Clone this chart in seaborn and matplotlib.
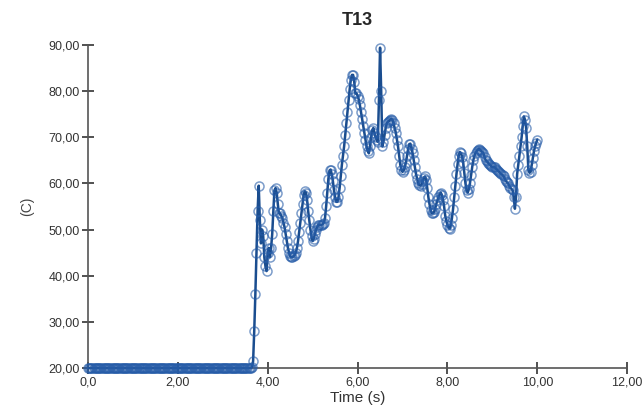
import numpy as np
import pandas as pd
import matplotlib
matplotlib.use("Agg")
import matplotlib.pyplot as plt
import seaborn as sns

# sample times (s), 0.025 s apart
time_s = np.round(np.arange(0, 10.0001, 0.025), 3)

# temperature (C), 0.00 .. 3.575 s (flat at ambient)
temp_flat = [
    20.0, 20.0, 20.0, 20.0, 20.0, 20.0, 20.0, 20.0,
    20.0, 20.0, 20.0, 20.0, 20.0, 20.0, 20.0, 20.0,
    20.0, 20.0, 20.0, 20.0, 20.0, 20.0, 20.0, 20.0,
    20.0, 20.0, 20.0, 20.0, 20.0, 20.0, 20.0, 20.0,
    20.0, 20.0, 20.0, 20.0, 20.0, 20.0, 20.0, 20.0,
    20.0, 20.0, 20.0, 20.0, 20.0, 20.0, 20.0, 20.0,
    20.0, 20.0, 20.0, 20.0, 20.0, 20.0, 20.0, 20.0,
    20.0, 20.0, 20.0, 20.0, 20.0, 20.0, 20.0, 20.0,
    20.0, 20.0, 20.0, 20.0, 20.0, 20.0, 20.0, 20.0,
    20.0, 20.0, 20.0, 20.0, 20.0, 20.0, 20.0, 20.0,
    20.0, 20.0, 20.0, 20.0, 20.0, 20.0, 20.0, 20.0,
    20.0, 20.0, 20.0, 20.0, 20.0, 20.0, 20.0, 20.0,
    20.0, 20.0, 20.0, 20.0, 20.0, 20.0, 20.0, 20.0,
    20.0, 20.0, 20.0, 20.0, 20.0, 20.0, 20.0, 20.0,
    20.0, 20.0, 20.0, 20.0, 20.0, 20.0, 20.0, 20.0,
    20.0, 20.0, 20.0, 20.0, 20.0, 20.0, 20.0, 20.0,
    20.0, 20.0, 20.0, 20.0, 20.0, 20.0, 20.0, 20.0,
    20.0, 20.0, 20.0, 20.0, 20.0, 20.0, 20.0, 20.0,
]

# 3.600 .. 10.000 s, one row per 0.2 s
temp_fire = [
    20.0, 20.0, 20.2, 21.5, 28.0, 36.0, 45.0, 54.0,
    59.5, 52.0, 47.0, 50.0, 48.5, 44.0, 42.0, 41.0,
    45.0, 46.0, 44.0, 46.0, 49.0, 54.0, 58.5, 59.0,
    58.0, 55.5, 53.5, 53.5, 53.0, 52.5, 51.5, 50.5,
    49.0, 47.5, 46.0, 45.0, 44.2, 44.0, 44.0, 44.2,
    44.5, 45.0, 46.0, 47.5, 49.5, 51.5, 53.5, 55.5,
    57.5, 58.3, 58.0, 56.5, 54.0, 52.0, 50.0, 48.5,
    47.5, 48.0, 49.0, 50.0, 50.5, 51.0, 51.0, 51.0,
    51.0, 51.2, 51.5, 52.5, 55.0, 58.0, 61.0, 62.8,
    63.0, 62.0, 60.5, 58.5, 57.0, 56.0, 56.0, 57.0,
    59.0, 61.5, 64.0, 66.0, 68.0, 70.5, 73.0, 75.5,
    78.0, 80.5, 82.5, 83.5, 83.5, 82.0, 79.5, 79.5,
    79.0, 78.2, 77.0, 75.5, 74.0, 72.5, 71.0, 69.5,
    68.0, 67.0, 66.5, 68.0, 70.0, 71.5, 72.0, 71.0,
    70.0, 69.5, 69.0, 78.0, 89.4, 80.0, 68.0, 69.0,
    70.5, 72.0, 73.0, 73.4, 73.5, 73.8, 74.0, 73.8,
    73.0, 72.0, 71.0, 69.5, 68.0, 66.0, 64.0, 63.0,
    62.5, 62.8, 63.5, 64.5, 66.0, 67.5, 68.5, 68.6,
    67.5, 66.5, 65.0, 63.5, 62.0, 61.0, 60.0, 59.6,
    59.5, 59.8, 60.5, 61.2, 61.5, 60.8, 59.0, 57.0,
    55.5, 54.3, 53.5, 53.5, 53.8, 54.5, 55.5, 56.3,
    57.0, 57.6, 58.0, 57.5, 56.5, 55.0, 53.0, 51.8,
    51.0, 50.4, 50.2, 51.0, 52.5, 54.5, 57.0, 59.5,
    62.0, 64.2, 66.0, 66.8, 66.5, 65.8, 64.5, 62.3,
    60.0, 58.5, 58.0, 58.7, 60.0, 61.8, 63.5, 65.0,
    66.0, 66.6, 67.0, 67.3, 67.5, 67.3, 67.0, 66.8,
    66.5, 65.7, 65.0, 64.8, 64.5, 64.2, 64.0, 63.7,
    63.5, 63.5, 63.5, 63.2, 63.0, 62.7, 62.5, 62.2,
    62.0, 61.8, 61.5, 61.0, 60.5, 60.2, 60.0, 59.5,
    59.0, 58.8, 58.5, 57.0, 54.5, 57.0, 62.0, 64.0,
    66.0, 68.0, 70.0, 72.5, 74.5, 73.8, 72.0, 68.0,
    63.0, 62.3, 62.5, 64.0, 65.5, 67.0, 68.0, 68.8,
    69.5,
]

x_ticks = [0, 2, 4, 6, 8, 10, 12]
x_labels = ["0,0", "2,00", "4,00", "6,00", "8,00", "10,00", "12,00"]
y_ticks = [20, 30, 40, 50, 60, 70, 80, 90]
y_labels = ["20,00", "30,00", "40,00", "50,00", "60,00", "70,00", "80,00", "90,00"]

df = pd.DataFrame({"Time (s)": time_s, "(C)": temp_flat + temp_fire})

sns.set_style("white")
plt.rcParams["font.family"] = ["Liberation Sans", "DejaVu Sans"]

fig = plt.figure(figsize=(6.42, 4.08), dpi=100)
ax = fig.add_axes([0.137, 0.098, 0.840, 0.792])

sns.lineplot(data=df, x="Time (s)", y="(C)", ax=ax, color="#1a4d8f", lw=1.8,
             marker="o", markersize=6.5, markerfacecolor="none",
             markeredgecolor=(0.15, 0.36, 0.66, 0.6), markeredgewidth=1.1,
             clip_on=False, zorder=3)

ax.set_xlim(0, 12)
ax.set_ylim(20, 90)
ax.set_xticks(x_ticks)
ax.set_xticklabels(x_labels)
ax.set_yticks(y_ticks)
ax.set_yticklabels(y_labels)
ax.tick_params(bottom=True, left=True, direction="inout", length=8, width=1.2,
               color="#333333", labelsize=9, labelcolor="#333333", pad=2)

for s in ["top", "right"]:
    ax.spines[s].set_visible(False)
for s in ["left", "bottom"]:
    ax.spines[s].set_color("#555555")
    ax.spines[s].set_linewidth(1.2)

ax.set_title("T13", fontsize=13, fontweight="bold", pad=14)
ax.set_xlabel("Time (s)", fontsize=11, color="#333333", labelpad=2)
ax.set_ylabel("(C)", fontsize=10, color="#444444", labelpad=10)

fig.savefig("out.png", dpi=100)
